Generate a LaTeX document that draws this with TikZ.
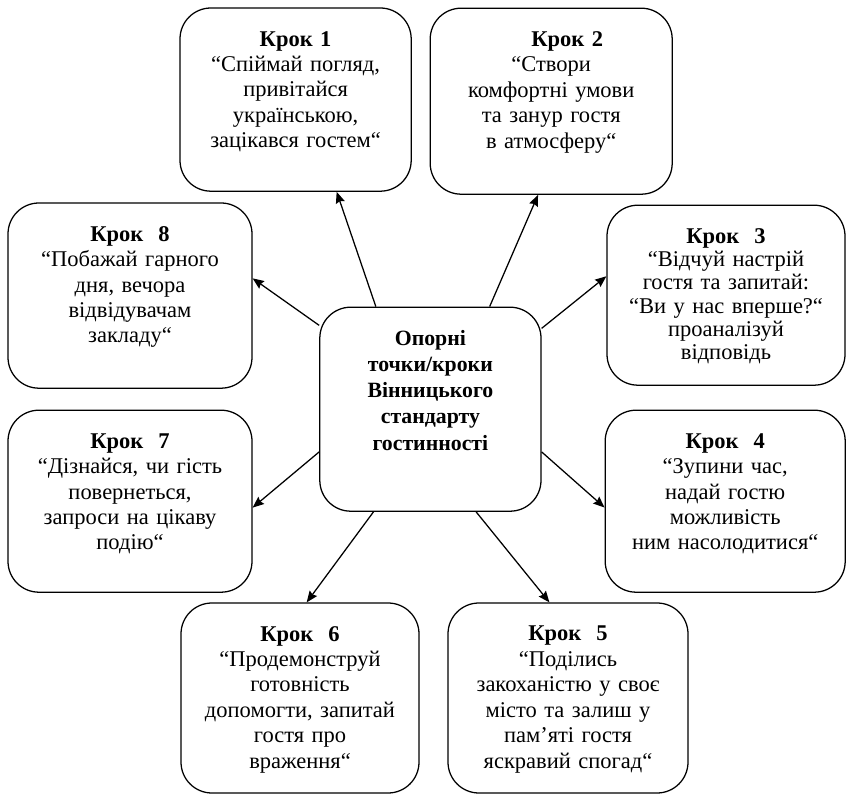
\documentclass[tikz,border=0pt]{standalone}
\usepackage{fontspec}
\setmainfont{Liberation Serif}
\usepackage{tikz}
\usetikzlibrary{
    arrows.meta,
    positioning
}
\newcommand{\topbox}[2]{\parbox[c][#1][t]{\linewidth}{\centering\vspace*{0.58cm}#2}}
\tikzstyle{stepbox} = [
    rectangle,
    rounded corners=22pt,
    draw=black,
    line width=0.9pt,
    inner sep=0pt,
    align=center,
    font=\fontsize{16}{18.1}\selectfont
]
\tikzstyle{hub} = [
    stepbox,
    font=\fontsize{15.5}{18.6}\selectfont\bfseries
]
\tikzstyle{flow} = [
    -{Stealth[length=8pt, width=6.5pt, inset=1pt]},
    line width=0.9pt,
    draw=black
]

\begin{document}
\begin{tikzpicture}
    \useasboundingbox (0,0) rectangle (21.275,-19.9);

    % Centre
    \node[hub, text width=5.53cm] (hub) at (10.76,-10.23)
        {\topbox{5.1cm}{Опорні\\точки/кроки\\Вінницького\\стандарту\\гостинності}};

    % Step 1
    \node[stepbox, text width=5.78cm] (s1) at (7.39,-2.49)
        {\topbox{4.58cm}{\textbf{Крок 1}\\“Спіймай погляд,\\привітайся\\українською,\\зацікався гостем“}};

    % Step 2
    \node[stepbox, text width=6.05cm] (s2) at (13.78,-2.53)
        {\topbox{4.65cm}{\hspace*{0.8cm}\textbf{Крок 2}\\“Створи\\комфортні умови\\та занур гостя\\в атмосферу“}};

    % Step 3
    \node[stepbox, text width=5.95cm, font=\fontsize{16}{16.6}\selectfont] (s3) at (18.15,-7.38)
        {\topbox{4.5cm}{\textbf{Крок\ \ 3}\\“Відчуй настрій\\гостя та запитай:\\“Ви у нас вперше?“\\проаналізуй\\відповідь}};

    % Step 4
    \node[stepbox, text width=6cm] (s4) at (18.13,-12.53)
        {\topbox{4.55cm}{\textbf{Крок\ \ 4}\\“Зупини час,\\надай гостю\\можливість\\ним насолодитися“}};

    % Step 5
    \node[stepbox, text width=6cm] (s5) at (14.2,-17.45)
        {\topbox{4.75cm}{\textbf{Крок\ \ 5}\\“Поділись\\закоханістю у своє\\місто та залиш у\\пам’яті гостя\\яскравий спогад“}};

    % Step 6
    \node[stepbox, text width=5.95cm] (s6) at (7.5,-17.45)
        {\topbox{4.75cm}{\textbf{Крок\ \ 6}\\“Продемонструй\\готовність\\допомогти, запитай\\гостя про\\враження“}};

    % Step 7
    \node[stepbox, text width=6.1cm] (s7) at (3.25,-12.53)
        {\topbox{4.55cm}{\textbf{Крок\ \ 7}\\“Дізнайся, чи гість\\повернеться,\\запроси на цікаву\\подію“}};

    % Step 8
    \node[stepbox, text width=6.1cm] (s8) at (3.25,-7.39)
        {\topbox{4.63cm}{\textbf{Крок\ \ 8}\\“Побажай гарного\\дня, вечора\\відвідувачам\\закладу“}};

    % Arrows
    \draw[flow] (hub.118.1) -- (s1.-66.1);
    \draw[flow] (hub.60.6) -- (s2.-98);
    \draw[flow] (hub.36.6) -- (s3.171.4);
    \draw[flow] (hub.-21.7) -- (s4.183.3);
    \draw[flow] (hub.-66) -- (s5.101.9);
    \draw[flow] (hub.241.9) -- (s6.86.4);
    \draw[flow] (hub.201.7) -- (s7.-3.3);
    \draw[flow] (hub.143.4) -- (s8.8.6);
\end{tikzpicture}
\end{document}
